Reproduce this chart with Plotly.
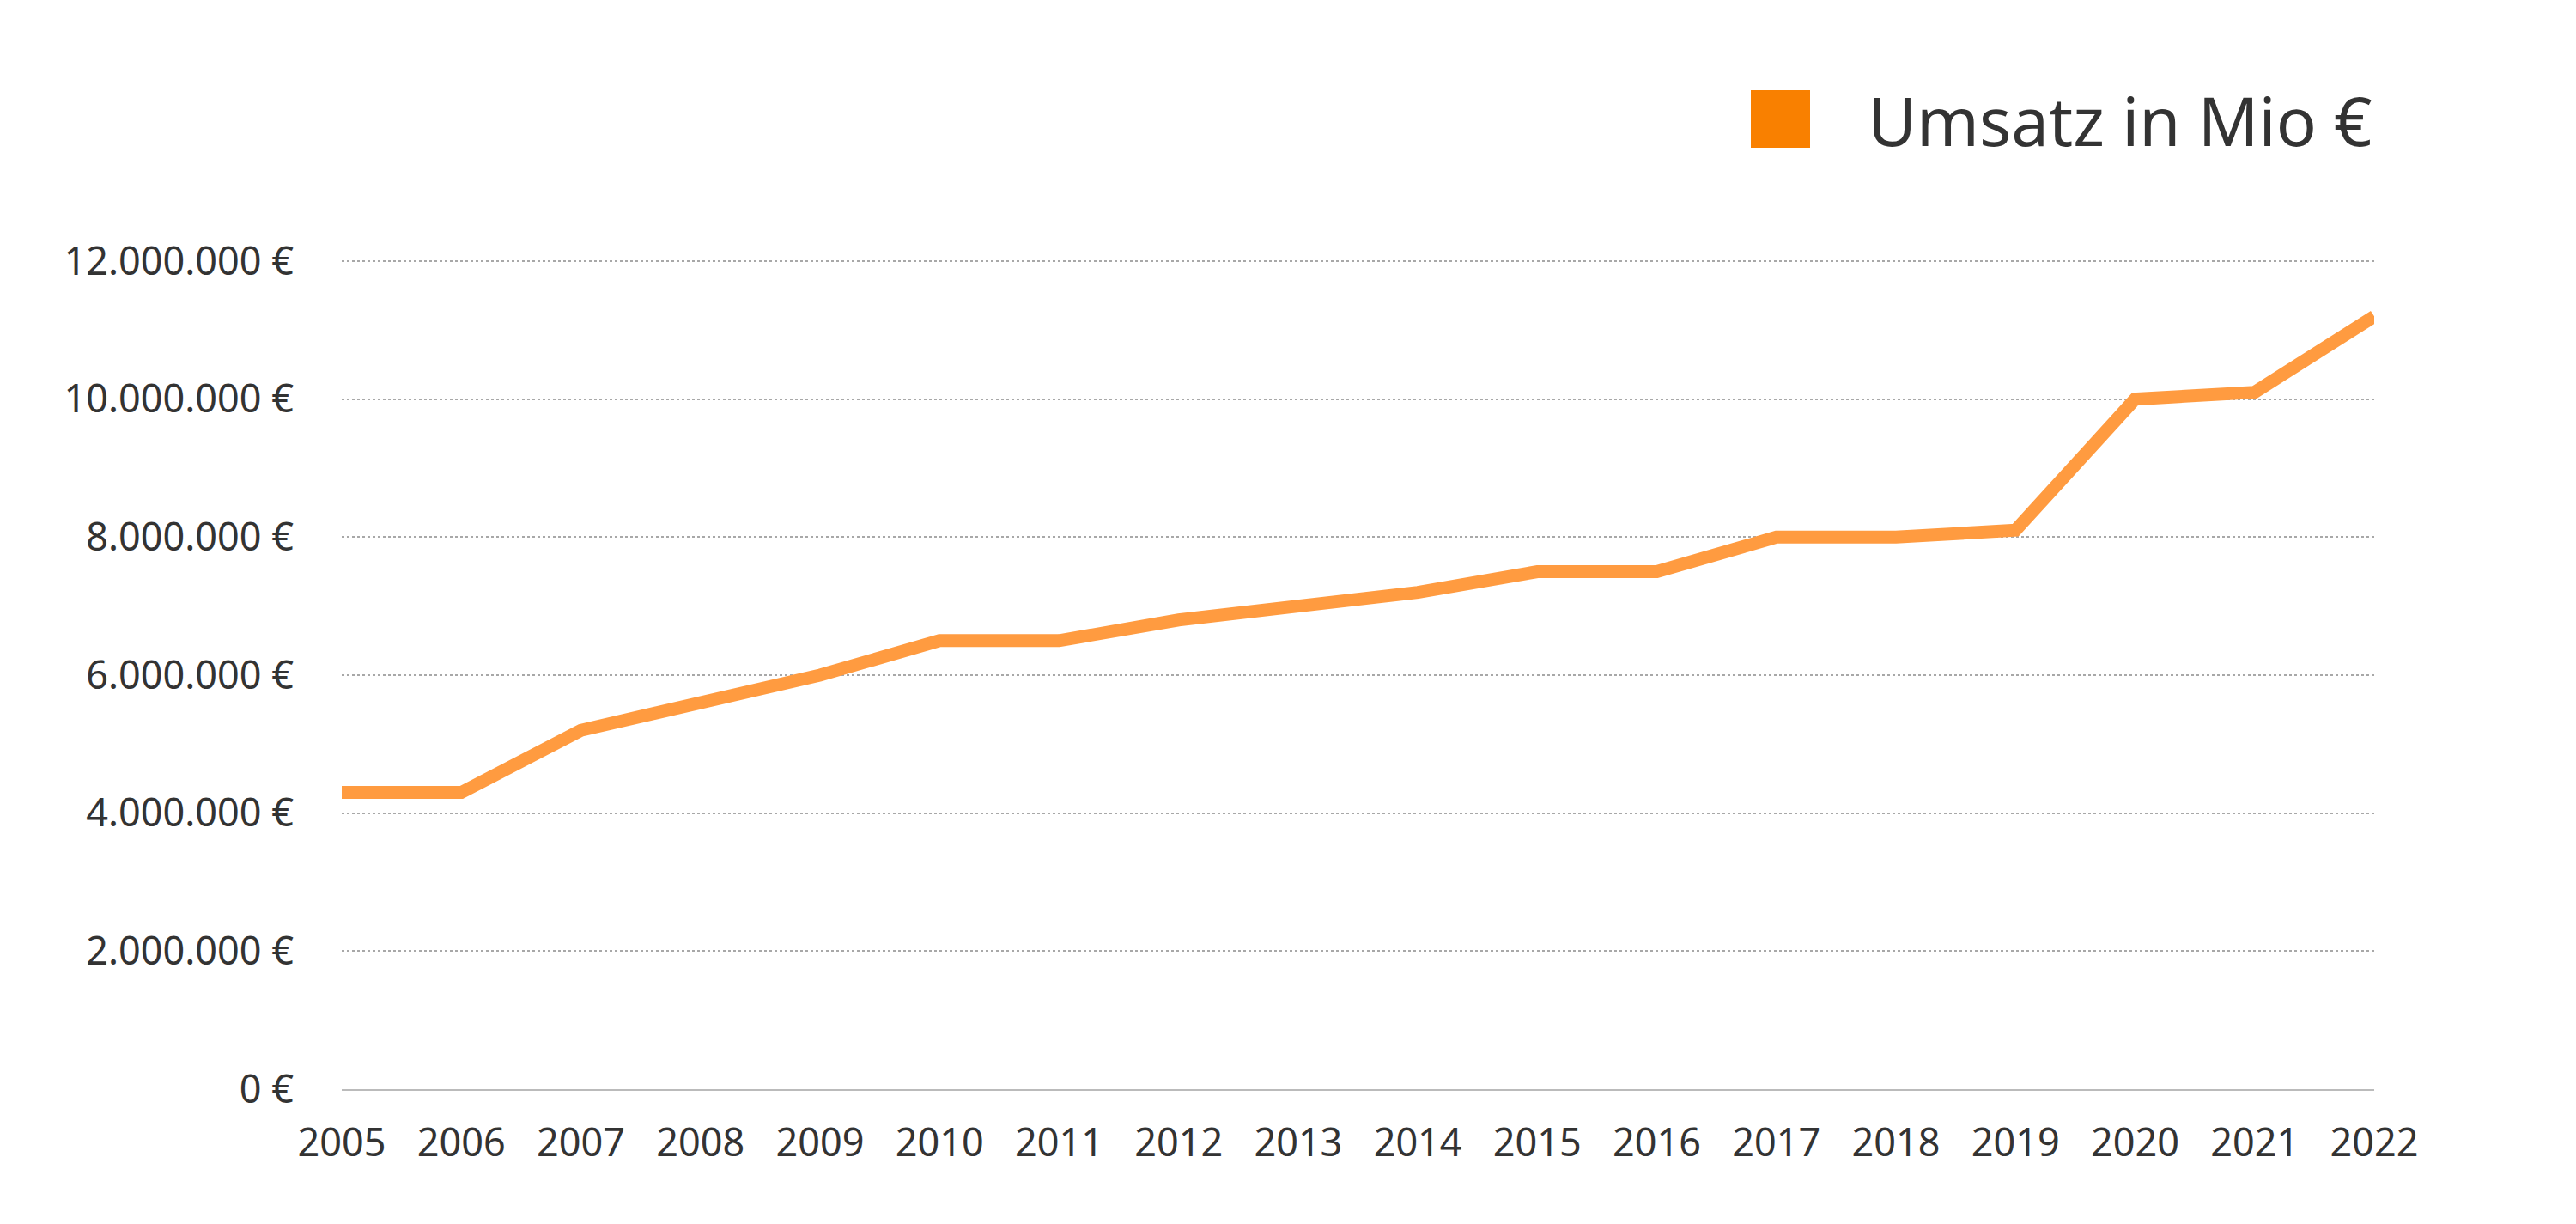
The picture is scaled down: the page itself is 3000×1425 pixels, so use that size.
import plotly.graph_objects as go

years = [2005, 2006, 2007, 2008, 2009, 2010, 2011, 2012, 2013, 2014,
         2015, 2016, 2017, 2018, 2019, 2020, 2021, 2022]
umsatz = [4300000, 4300000, 5200000, 5600000, 6000000, 6500000, 6500000, 6800000,
          7000000, 7200000, 7500000, 7500000, 8000000, 8000000, 8100000,
          10000000, 10100000, 11200000]
y_ticks = [0, 2000000, 4000000, 6000000, 8000000, 10000000, 12000000]
series_name = "Umsatz in Mio €"

y_ticktext = [f"{v:,}".replace(",", ".") + " €" for v in y_ticks]

FONT = "Noto Sans"
TXT = "#333333"

# plot area in figure pixels (page has 8px body margin)
Y_TOP = 12050000
L, R, T, B = 390, 2757, 292, 1260

fig = go.Figure()
fig.add_trace(go.Scatter(
    x=years, y=umsatz, mode="lines", name=series_name,
    line=dict(color="#FF9B40", width=15), showlegend=False,
))

# legend drawn manually (large square swatch)
fig.add_shape(type="rect", xref="paper", yref="paper",
              x0=(2031 - L) / (R - L), x1=(2100 - L) / (R - L),
              y0=(B - 164) / (B - T), y1=(B - 97) / (B - T),
              fillcolor="#F98000", line=dict(width=0))
fig.add_annotation(xref="paper", yref="paper",
                   x=1.0, y=(B - 132) / (B - T),
                   xanchor="right", yanchor="middle", showarrow=False,
                   text=series_name, font=dict(family=FONT, size=78, color=TXT))

fig.update_layout(
    width=3000, height=1425,
    margin=dict(l=L, r=3000 - R, t=T, b=1425 - B),
    paper_bgcolor="white", plot_bgcolor="white",
    font=dict(family=FONT, color=TXT),
    showlegend=False,
)
fig.update_xaxes(
    range=[2005, 2022], tickmode="array", tickvals=years,
    ticktext=[str(y) for y in years],
    showgrid=False, zeroline=False,
    showline=True, linecolor="#BBBBBB", linewidth=2,
    ticks="", ticklabelstandoff=22,
    tickfont=dict(family=FONT, size=45, color=TXT),
)
fig.update_yaxes(
    range=[0, Y_TOP], tickmode="array", tickvals=y_ticks,
    ticktext=y_ticktext,
    showgrid=True, gridcolor="#A8A8A8", griddash="dot", gridwidth=2,
    zeroline=False, showline=False, ticks="", ticklabelstandoff=55,
    tickfont=dict(family=FONT, size=45, color=TXT),
)

fig.write_html("out.html")
